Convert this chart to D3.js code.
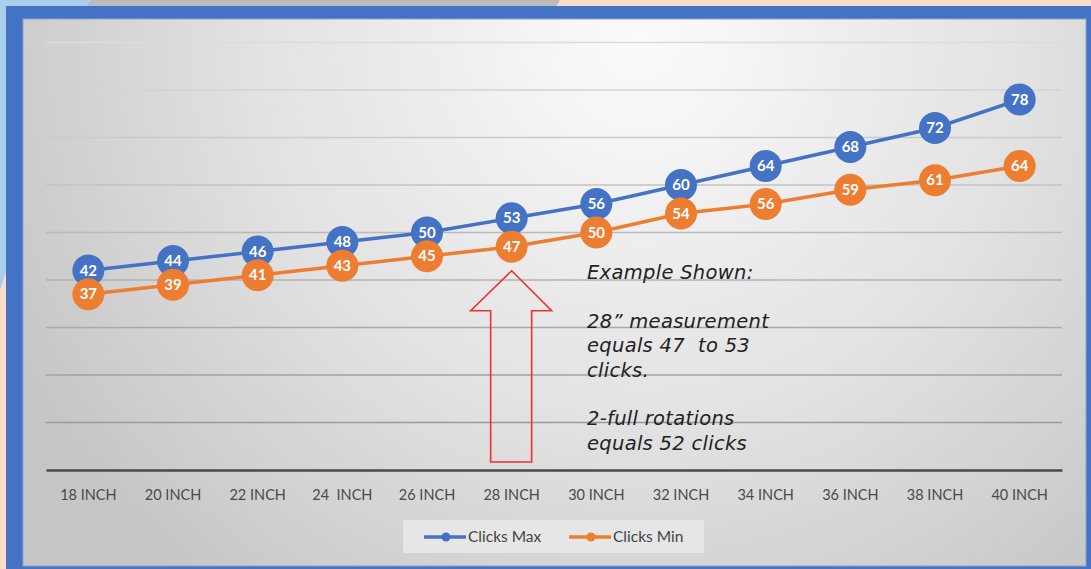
<!DOCTYPE html>
<html><head><meta charset="utf-8">
<script src="https://cdn.jsdelivr.net/npm/d3@7"></script>
<style>html,body{margin:0;padding:0;background:#fbdccb;}svg{display:block;}</style>
</head><body>
<script>
const categories = ["18 INCH","20 INCH","22 INCH","24  INCH","26 INCH","28 INCH","30 INCH","32 INCH","34 INCH","36 INCH","38 INCH","40 INCH"];
const clicksMax = [42,44,46,48,50,53,56,60,64,68,72,78];
const clicksMin = [37,39,41,43,45,47,50,54,56,59,61,64];
const seriesNames = ["Clicks Max","Clicks Min"];
const seriesColors = ["#4472c4","#ed7d31"];
const yTicks = [0,10,20,30,40,50,60,70,80,90];
const noteLines = ["Example Shown:","","28\u201d measurement","equals 47  to 53","clicks.","","2-full rotations","equals 52 clicks"];

const W = 1091, H = 569;
const svg = d3.select("body").append("svg").attr("width", W).attr("height", H);
const defs = svg.append("defs");

// background strips
svg.append("rect").attr("width", W).attr("height", H).attr("fill", "#fbdccb");
svg.append("polygon").attr("points", "0,0 560,0 555,8 0,8").attr("fill", "#bcbaba");
svg.append("polygon").attr("points", "0,0 92,0 84,8 0,8").attr("fill", "#a9cfea");
svg.append("polygon").attr("points", "0,0 10,0 10,260 0,290").attr("fill", "#a9cfea");

// blue frame
svg.append("rect").attr("x", 6).attr("y", 6).attr("width", W - 6).attr("height", H - 6).attr("fill", "#4472c4");

// panel gradient
const rg = defs.append("radialGradient").attr("id", "pg")
  .attr("gradientUnits", "userSpaceOnUse").attr("cx", 640).attr("cy", 40).attr("r", 700);
rg.append("stop").attr("offset", 0).attr("stop-color", "#fbfbfb");
rg.append("stop").attr("offset", 0.55).attr("stop-color", "#e2e2e2");
rg.append("stop").attr("offset", 1).attr("stop-color", "#c6c6c6");
svg.append("rect").attr("x", 23).attr("y", 19).attr("width", 1063).attr("height", 547)
  .attr("fill", "url(#pg)").attr("stroke", "#8fa3c4").attr("stroke-width", 1);

// grid gradient
const gg = defs.append("linearGradient").attr("id", "gg")
  .attr("gradientUnits", "userSpaceOnUse").attr("x1", 0).attr("y1", 40).attr("x2", 0).attr("y2", 430);
gg.append("stop").attr("offset", 0).attr("stop-color", "#dcdcdc");
gg.append("stop").attr("offset", 1).attr("stop-color", "#989898");

const x = d3.scaleBand().domain(categories).range([46, 1062]);
const y = d3.scaleLinear().domain([0, 90]).range([470, 42.5]);

// gridlines
svg.append("g").selectAll("rect").data(yTicks.filter(d => d > 0)).join("rect")
  .attr("x", 46).attr("width", 1016).attr("y", d => y(d) - 0.75).attr("height", 1.5)
  .attr("fill", "url(#gg)");

// x axis
const xAxis = svg.append("g").attr("transform", "translate(0,470)")
  .call(d3.axisBottom(x).tickSize(0).tickPadding(20));
xAxis.select(".domain").attr("stroke", "#4a4a4a").attr("stroke-width", 2.5);
xAxis.selectAll("text").attr("font-family", "Lato, 'Open Sans', sans-serif")
  .attr("font-size", 14.5).attr("fill", "#4a4a4a").style("white-space", "pre");

const cx = d => x(d) + x.bandwidth() / 2;
const series = [clicksMax, clicksMin];

// arrow annotation
const ax = cx(categories[5]);
const tipY = y(clicksMin[5]) + 24;
const arrowPts = [[ax, tipY],[ax + 40, tipY + 40],[ax + 20, tipY + 40],[ax + 20, 462],[ax - 21, 462],[ax - 21, tipY + 40],[ax - 41, tipY + 40]];
svg.append("polygon").attr("points", arrowPts.map(p => p.join(",")).join(" "))
  .attr("fill", "none").attr("stroke", "#f0302f").attr("stroke-width", 1.6);

// lines & points
const line = d3.line().x((d, i) => cx(categories[i])).y(d => y(d));
series.forEach((s, k) => {
  svg.append("path").datum(s).attr("d", line).attr("fill", "none")
    .attr("stroke", seriesColors[k]).attr("stroke-width", 3.5);
});
series.forEach((s, k) => {
  const g = svg.append("g");
  g.selectAll("circle").data(s).join("circle")
    .attr("cx", (d, i) => cx(categories[i])).attr("cy", d => y(d)).attr("r", 16)
    .attr("fill", seriesColors[k]);
  g.selectAll("text").data(s).join("text")
    .attr("x", (d, i) => cx(categories[i])).attr("y", d => y(d) + 5)
    .attr("text-anchor", "middle").attr("font-family", "Lato, sans-serif")
    .attr("font-weight", "bold").attr("font-size", 15).attr("fill", "#fff").text(d => d);
});

// note
const note = svg.append("text").attr("font-family", "'DejaVu Sans', sans-serif")
  .attr("font-style", "italic").attr("font-size", 19.5).attr("letter-spacing", 0.3)
  .attr("fill", "#222").style("white-space", "pre");
noteLines.forEach((t, i) => {
  note.append("tspan").attr("x", 587).attr("y", 279 + i * 24.4).text(t);
});

// legend
svg.append("rect").attr("x", 403).attr("y", 520).attr("width", 301).attr("height", 33).attr("fill", "#e6e6e6");
const lg = svg.append("g").selectAll("g").data(seriesNames).join("g")
  .attr("transform", (d, i) => `translate(${424 + i * 145},537)`);
lg.append("line").attr("x1", 0).attr("x2", 42).attr("stroke", (d, i) => seriesColors[i]).attr("stroke-width", 3.5);
lg.append("circle").attr("cx", 22).attr("r", 4.5).attr("fill", (d, i) => seriesColors[i]);
lg.append("text").attr("x", 44).attr("y", 5).attr("font-family", "Lato, sans-serif")
  .attr("font-size", 15.5).attr("fill", "#444").text(d => d);
</script>
</body></html>
